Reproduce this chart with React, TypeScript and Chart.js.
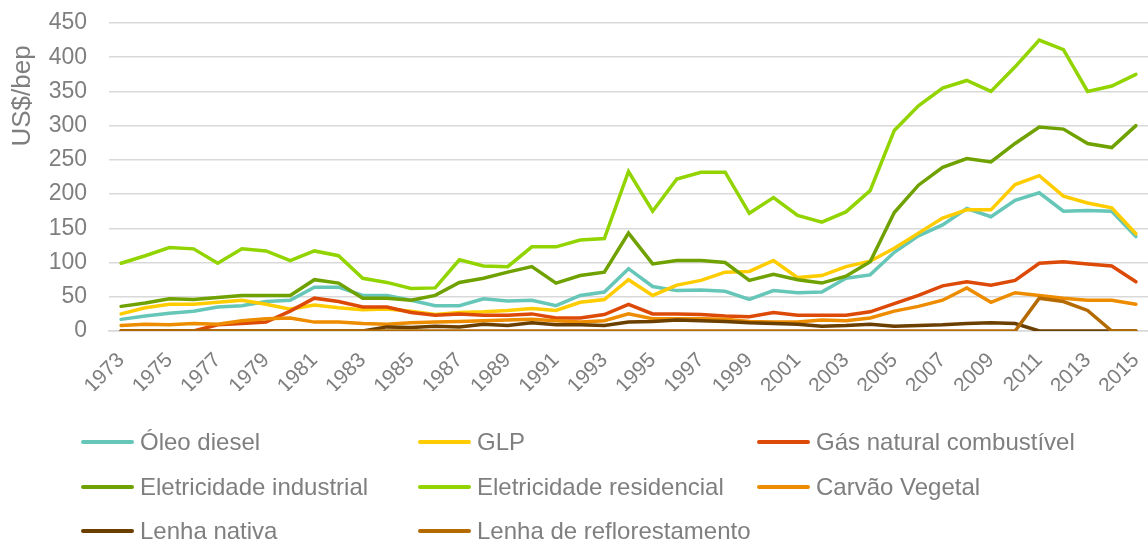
import React, { useEffect, useRef } from "react";
import { Chart, registerables } from "chart.js";

Chart.register(...registerables);

const years: string[] = [
  "1973","1974","1975","1976","1977","1978","1979","1980","1981","1982",
  "1983","1984","1985","1986","1987","1988","1989","1990","1991","1992",
  "1993","1994","1995","1996","1997","1998","1999","2000","2001","2002",
  "2003","2004","2005","2006","2007","2008","2009","2010","2011","2012",
  "2013","2014","2015",
];

const oleoDiesel = [17,22,26,29,35,37,43,45,64,64,52,52,45,37,37,47,44,45,37,52,57,91,65,59,60,58,46,59,56,57,77,82,115,139,155,179,167,191,202,175,176,175,138];
const glp = [25,34,39,39,42,45,39,32,38,34,31,32,29,24,27,28,30,33,30,42,46,75,52,67,74,86,87,103,78,81,94,102,121,143,165,177,177,214,227,197,187,180,142];
const gasNatural = [0,0,0,0,9,11,13,29,48,43,35,35,27,23,25,23,23,25,19,19,24,39,25,25,24,22,21,27,23,23,23,28,40,52,66,72,67,74,99,101,98,95,72];
const eletIndustrial = [36,41,47,46,49,52,52,52,75,70,48,48,45,52,71,77,86,94,70,81,86,143,98,103,103,100,74,83,75,70,80,101,173,213,239,252,247,274,298,295,274,268,300];
const eletResidencial = [99,110,122,120,99,120,117,103,117,110,77,71,62,63,104,95,94,123,123,133,135,233,175,222,232,232,172,195,169,159,174,205,293,329,355,366,350,386,425,411,350,358,375];
const carvaoVegetal = [8,10,9,11,10,15,18,19,13,13,11,10,12,13,14,15,16,17,15,13,15,25,18,18,18,17,14,13,13,16,15,19,29,36,45,63,42,56,52,48,45,45,39];
const lenhaNativa = [0,0,0,0,0,0,0,0,0,0,0,6,5,7,6,10,8,12,9,9,8,13,14,16,15,14,12,11,10,7,8,10,7,8,9,11,12,11,0,0,0,0,0];
const lenhaReflorestamento = [0,0,0,0,0,0,0,0,0,0,0,0,0,0,0,0,0,0,0,0,0,0,0,0,0,0,0,0,0,0,0,0,0,0,0,0,0,0,48,43,30,0,0];

const seriesNames = [
  "Óleo diesel",
  "GLP",
  "Gás natural combustível",
  "Eletricidade industrial",
  "Eletricidade residencial",
  "Carvão Vegetal",
  "Lenha nativa",
  "Lenha de reflorestamento",
];
const seriesColors = [
  "#66C6B7",
  "#FFCC00",
  "#DD4A08",
  "#6FA200",
  "#92D400",
  "#EE8C00",
  "#6B3F00",
  "#B56A00",
];
const seriesValues = [
  oleoDiesel,
  glp,
  gasNatural,
  eletIndustrial,
  eletResidencial,
  carvaoVegetal,
  lenhaNativa,
  lenhaReflorestamento,
];

const yTicks = { min: 0, max: 450, step: 50 };
const yTitle = "US$/bep";

const FONT = "'Liberation Sans', Arial, sans-serif";
const GRAY = "#7F7F7F";

const legendCols = [81, 418, 757];
const legendRows = [442, 487, 531];

export default function App() {
  const canvasRef = useRef<HTMLCanvasElement | null>(null);

  useEffect(() => {
    if (!canvasRef.current) return;
    const yTitlePlugin = {
      id: "yTitlePlugin",
      afterDraw(chart: any) {
        const ctx = chart.ctx;
        ctx.save();
        ctx.translate(23, 96);
        ctx.rotate(-Math.PI / 2);
        ctx.fillStyle = GRAY;
        ctx.font = `26px ${FONT}`;
        ctx.textAlign = "center";
        ctx.textBaseline = "middle";
        ctx.fillText(yTitle, 0, 0);
        ctx.restore();
      },
    };
    const chart = new Chart(canvasRef.current, {
      type: "line",
      data: {
        labels: years,
        datasets: seriesNames.map((name, i) => ({
          label: name,
          data: seriesValues[i],
          borderColor: seriesColors[i],
          backgroundColor: seriesColors[i],
          borderWidth: 3.5,
          pointRadius: 0,
          pointHoverRadius: 0,
          tension: 0,
          fill: false,
          order: -i,
          borderCapStyle: "round" as const,
        })),
      },
      options: {
        responsive: false,
        animation: false,
        events: [],
        layout: { padding: { left: 48, right: 0, top: 23, bottom: 150 } },
        plugins: {
          legend: { display: false },
          tooltip: { enabled: false },
        },
        scales: {
          x: {
            offset: true,
            grid: { display: false, drawTicks: false },
            border: { display: true, color: "#D9D9D9", width: 1.5 },
            afterFit: (scale: any) => {
              scale.height = 60;
              scale.paddingLeft = 0;
              scale.paddingRight = 0;
            },
            ticks: {
              autoSkip: false,
              maxRotation: 45,
              minRotation: 45,
              padding: 17,
              color: GRAY,
              font: { family: FONT, size: 21 },
              callback: function (this: any, _v: any, index: number) {
                return index % 2 === 0 ? years[index] : "";
              },
            },
          },
          y: {
            min: yTicks.min,
            max: yTicks.max,
            grid: { color: "#D9D9D9", lineWidth: 1.5, drawTicks: false },
            border: { display: false },
            afterFit: (scale: any) => {
              scale.width = 61;
              scale.paddingTop = 0;
              scale.paddingBottom = 0;
            },
            ticks: {
              stepSize: yTicks.step,
              padding: 22,
              color: GRAY,
              font: { family: FONT, size: 23 },
            },
          },
        },
      },
      plugins: [yTitlePlugin],
    });
    return () => chart.destroy();
  }, []);

  return (
    <div style={{ position: "absolute", left: 0, top: 0, width: 1148, height: 541, background: "#fff", fontFamily: FONT }}>
      <canvas ref={canvasRef} width={1148} height={541} style={{ display: "block" }} />
      {seriesNames.map((name, i) => {
        const col = i % 3;
        const row = Math.floor(i / 3);
        return (
          <div
            key={name}
            style={{
              position: "absolute",
              left: legendCols[col],
              top: legendRows[row] - 15,
              height: 30,
              display: "flex",
              alignItems: "center",
              whiteSpace: "nowrap",
            }}
          >
            <span style={{ display: "inline-block", width: 53, height: 4, background: seriesColors[i], borderRadius: 2, marginRight: 6 }} />
            <span style={{ color: GRAY, fontSize: 24, lineHeight: "30px" }}>{name}</span>
          </div>
        );
      })}
    </div>
  );
}
